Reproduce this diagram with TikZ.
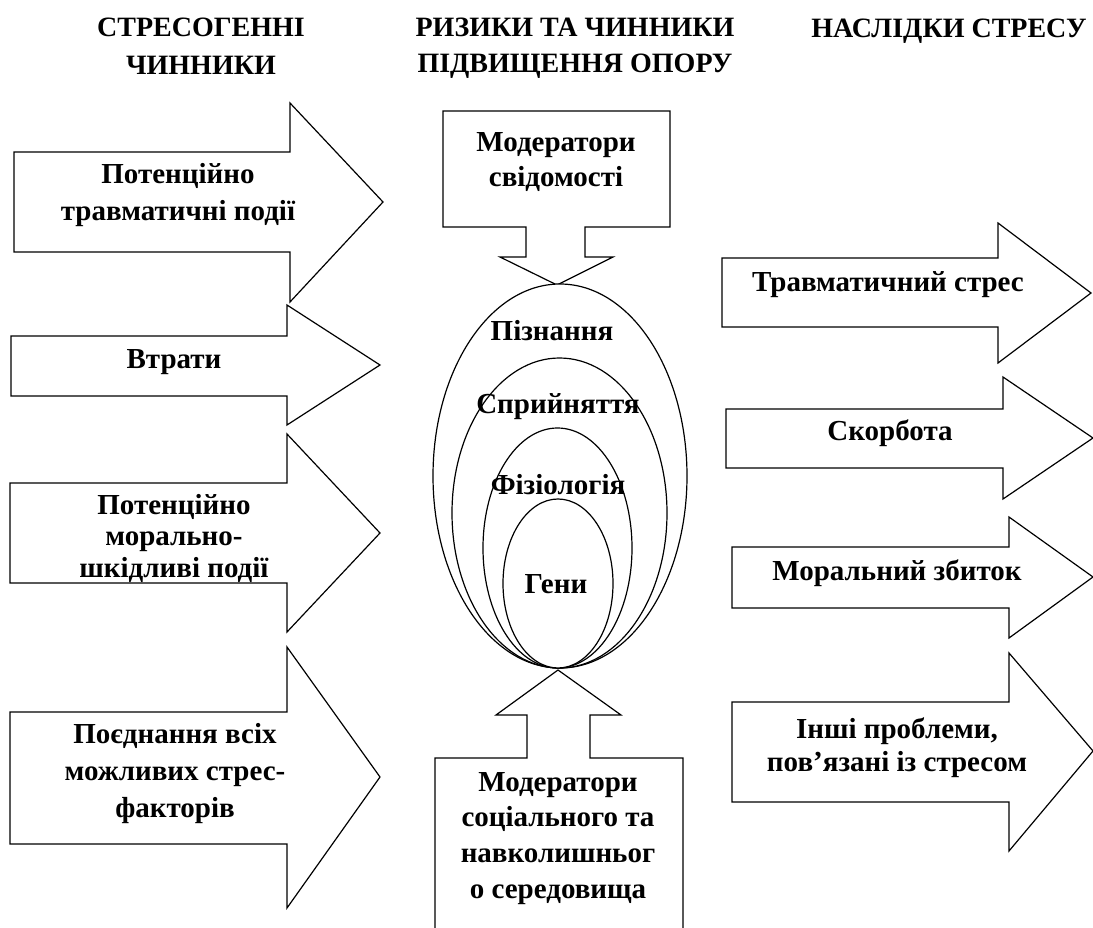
\documentclass[tikz,border=0pt]{standalone}
\usepackage{fontspec}
\setmainfont{Liberation Serif}
\begin{document}
\begin{tikzpicture}[x=1pt,y=-1pt,
  shp/.style={draw=black,line width=1.2pt,line join=miter,fill=white},
  lbl/.style={anchor=base,align=center,inner sep=0pt,font=\bfseries\fontsize{29}{35}\selectfont},
  hdr/.style={anchor=base,align=center,inner sep=0pt,font=\bfseries\fontsize{28}{37}\selectfont}]
\useasboundingbox (0,0) rectangle (1093,928);
\clip (0,0) rectangle (1093,928);
% headers (base anchor = baseline of last line)
\node[hdr,font=\bfseries\fontsize{28}{38}\selectfont] (h1) at (201,75) {СТРЕСОГЕННІ\\ЧИННИКИ};
\node[hdr,font=\bfseries\fontsize{28}{36}\selectfont] (h2) at (575,73) {РИЗИКИ ТА ЧИННИКИ\\ПІДВИЩЕННЯ ОПОРУ};
\node[hdr] (h3) at (949,38) {НАСЛІДКИ СТРЕСУ};
% left arrows
\draw[shp] (14,152) -- (290,152) -- (290,103) -- (383,202) -- (290,302) -- (290,252) -- (14,252) -- cycle;
\draw[shp] (11,336) -- (287,336) -- (287,305) -- (380,365) -- (287,425) -- (287,396) -- (11,396) -- cycle;
\draw[shp] (10,483) -- (287,483) -- (287,434) -- (380,533) -- (287,632) -- (287,583) -- (10,583) -- cycle;
\draw[shp] (10,712) -- (287,712) -- (287,647) -- (380,777) -- (287,908) -- (287,844) -- (10,844) -- cycle;
\node[lbl,font=\bfseries\fontsize{29}{36.5}\selectfont] (l1) at (178,220.5) {Потенційно\\травматичні події};
\node[lbl] (l2) at (174,368) {Втрати};
\node[lbl,font=\bfseries\fontsize{29}{31.5}\selectfont] (l3) at (174,577) {Потенційно\\морально-\\шкідливі події};
\node[lbl,font=\bfseries\fontsize{29}{37}\selectfont] (l4) at (175,817) {Поєднання всіх\\можливих стрес-\\факторів};
% top box arrow
\draw[shp] (443,111) -- (670,111) -- (670,227) -- (585,227) -- (585,257) -- (613,257) -- (557,285) -- (500,257) -- (526,257) -- (526,227) -- (443,227) -- cycle;
\node[lbl] (top) at (556,187) {Модератори\\свідомості};
% ellipses
\draw[shp] (560,476) ellipse [x radius=127,y radius=192];
\draw[shp] (559.5,513) ellipse [x radius=107.5,y radius=155];
\draw[shp] (557.5,548) ellipse [x radius=74.5,y radius=120];
\draw[shp] (558,583.5) ellipse [x radius=55,y radius=84.5];
\node[lbl] (e1) at (552,340) {Пізнання};
\node[lbl] (e2) at (558,413) {Сприйняття};
\node[lbl] (e3) at (558,494) {Фізіологія};
\node[lbl] (e4) at (556,593) {Гени};
% bottom box arrow
\draw[shp] (558,670) -- (621,715) -- (590,715) -- (590,758) -- (683,758) -- (683,940) -- (435,940) -- (435,758) -- (527,758) -- (527,715) -- (496,715) -- cycle;
\node[lbl,font=\bfseries\fontsize{29}{35.6}\selectfont] (bot) at (558,898) {Модератори\\соціального та\\навколишньог\\о середовища};
% right arrows
\draw[shp] (722,258) -- (998,258) -- (998,223) -- (1091,293) -- (998,363) -- (998,327) -- (722,327) -- cycle;
\draw[shp] (726,409) -- (1003,409) -- (1003,377) -- (1093,438) -- (1003,499) -- (1003,468) -- (726,468) -- cycle;
\draw[shp] (732,547) -- (1009,547) -- (1009,517) -- (1093,577) -- (1009,638) -- (1009,608) -- (732,608) -- cycle;
\draw[shp] (732,702) -- (1009,702) -- (1009,653) -- (1093,751) -- (1009,851) -- (1009,802) -- (732,802) -- cycle;
\node[lbl] (r1) at (888,292) {Травматичний стрес};
\node[lbl] (r2) at (890,440) {Скорбота};
\node[lbl] (r3) at (897,580) {Моральний збиток};
\node[lbl,font=\bfseries\fontsize{29}{33}\selectfont] (r4) at (897,771) {Інші проблеми,\\пов’язані із стресом};
\end{tikzpicture}
\end{document}
